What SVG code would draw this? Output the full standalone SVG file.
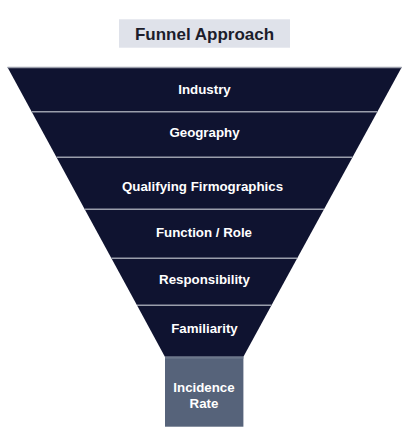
<svg xmlns="http://www.w3.org/2000/svg" width="417" height="439" viewBox="0 0 417 439">
<style>
.band{fill:#0f1330;}
.sep{stroke:#9a9eab;stroke-width:1.4;}
.lbl{font-family:"Liberation Sans",Arial,sans-serif;font-weight:bold;font-size:13.3px;fill:#ffffff;text-anchor:middle;}
.title{font-family:"Liberation Sans",Arial,sans-serif;font-weight:bold;font-size:17px;fill:#1c1d2b;text-anchor:middle;}
</style>
<rect x="0" y="0" width="417" height="439" fill="#ffffff"/>
<g id="title">
<rect x="119" y="19.3" width="171" height="28.4" fill="#dfe2ea"/>
<text class="title" x="204.5" y="40">Funnel Approach</text>
</g>
<g id="industry">
<polygon class="band" points="7.5,67.3 401.7,67.3 377.4,111.7 31.7,111.7"/>
<text class="lbl" x="204.5" y="93.5">Industry</text>
</g>
<g id="geography">
<polygon class="band" points="31.7,111.7 377.4,111.7 352.5,157.3 56.5,157.3"/>
<text class="lbl" x="204.5" y="137.3">Geography</text>
</g>
<g id="firmographics">
<polygon class="band" points="56.5,157.3 352.5,157.3 324,209.3 84.7,209.3"/>
<text class="lbl" x="202.5" y="190.7">Qualifying Firmographics</text>
</g>
<g id="function">
<polygon class="band" points="84.7,209.3 324,209.3 297.2,258.3 111.4,258.3"/>
<text class="lbl" x="204" y="236.7">Function / Role</text>
</g>
<g id="responsibility">
<polygon class="band" points="111.4,258.3 297.2,258.3 271.5,305.3 137,305.3"/>
<text class="lbl" x="204.5" y="284.3">Responsibility</text>
</g>
<g id="familiarity">
<polygon class="band" points="137,305.3 271.5,305.3 243.4,356.7 164.9,356.7"/>
<text class="lbl" x="204.5" y="332.7">Familiarity</text>
</g>
<g id="incidence">
<rect x="165" y="356.7" width="78.4" height="70" fill="#56637a"/>
<rect x="165" y="356.7" width="78.4" height="2" fill="#6c778b"/>
<text class="lbl" x="204" y="392.3">Incidence</text>
<text class="lbl" x="204" y="408.3">Rate</text>
</g>
<g id="connectors">
<line class="sep" x1="7.5" y1="67.5" x2="401.7" y2="67.5" stroke-width="0.8"/>
<line class="sep" x1="31.7" y1="111.7" x2="377.4" y2="111.7"/>
<line class="sep" x1="56.5" y1="157.3" x2="352.5" y2="157.3"/>
<line class="sep" x1="84.7" y1="209.3" x2="324" y2="209.3"/>
<line class="sep" x1="111.4" y1="258.3" x2="297.2" y2="258.3"/>
<line class="sep" x1="137" y1="305.3" x2="271.5" y2="305.3"/>
</g>
</svg>
